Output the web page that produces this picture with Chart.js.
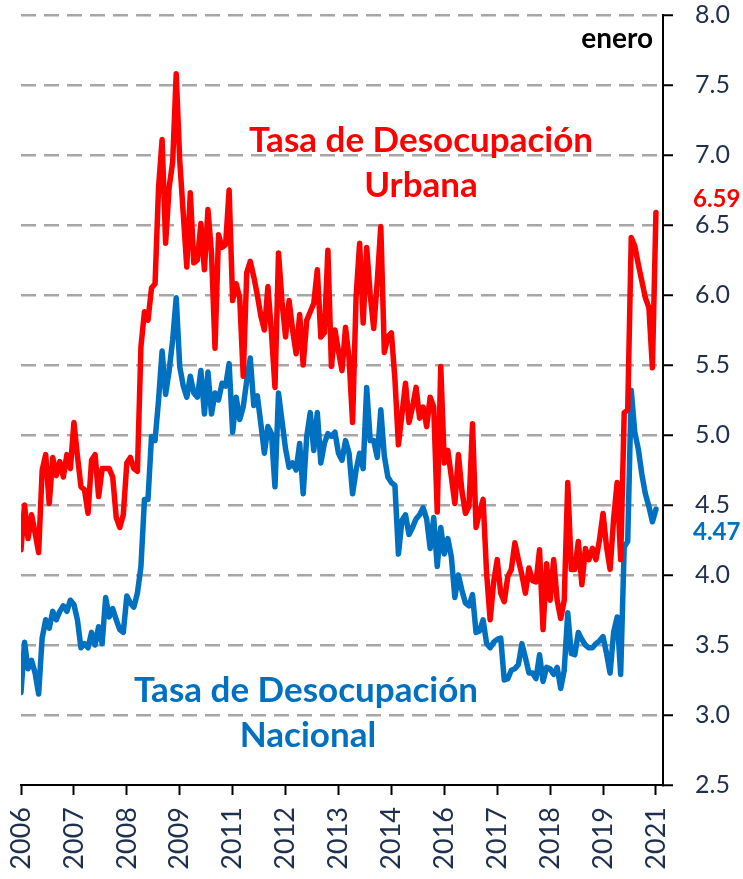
<!DOCTYPE html>
<html><head><meta charset="utf-8">
<script src="https://cdn.jsdelivr.net/npm/chart.js@4.4.1/dist/chart.umd.min.js"></script>
<style>html,body{margin:0;padding:0;background:#fff}#wrap{width:743px;height:879px;position:relative}</style>
</head><body><div id="wrap"><canvas id="c"></canvas></div>
<script>
// Monthly categories Jan 2006 .. Mar 2021 (axis runs a little past the last point)
const months = [];
for (let i = 0; i < 183; i++) {
  const y = 2006 + Math.floor(i / 12), m = (i % 12) + 1;
  months.push(y + '-' + String(m).padStart(2, '0'));
}
const tickMonths = ['2006-01','2007-04','2008-07','2009-10','2011-01','2012-04','2013-07','2014-10','2016-01','2017-04','2018-07','2019-10','2021-01'];
const tickLabels = ['2006','2007','2008','2009','2011','2012','2013','2014','2016','2017','2018','2019','2021'];

const urbana = [
  4.18,4.50,4.26,4.43,4.30,4.16,4.75,4.86,4.51,4.84,4.71,4.81,
  4.70,4.86,4.76,5.09,4.85,4.63,4.61,4.44,4.82,4.86,4.56,4.76,
  4.76,4.76,4.70,4.41,4.34,4.43,4.80,4.84,4.76,4.74,5.63,5.88,
  5.82,6.05,6.08,6.77,7.11,6.37,6.77,6.95,7.58,6.96,6.58,6.20,
  6.73,6.23,6.25,6.51,6.18,6.61,6.30,5.62,6.43,6.34,6.36,6.75,
  5.96,6.08,5.98,5.42,6.16,6.24,6.13,6.00,5.85,5.75,6.06,5.73,
  5.34,6.30,5.95,5.70,5.96,5.75,5.58,5.86,5.50,5.82,5.88,5.94,
  6.18,5.70,5.73,6.32,5.49,5.75,5.60,5.46,5.77,5.55,5.09,5.99,
  6.37,5.80,6.34,6.00,5.76,6.10,6.49,5.59,5.70,5.73,5.40,4.93,
  5.15,5.37,5.09,5.20,5.34,5.12,5.20,5.06,5.27,5.20,4.45,5.49,
  4.80,4.89,4.70,4.51,4.86,4.60,4.44,4.49,5.08,4.34,4.45,4.54,
  4.01,3.68,3.95,4.11,3.87,3.81,3.99,4.04,4.23,4.11,4.00,3.87,
  4.05,3.96,3.95,4.18,3.61,4.08,3.82,4.11,3.82,3.69,3.82,4.66,
  4.04,4.04,4.24,3.93,4.19,4.11,4.19,4.11,4.25,4.44,4.20,4.04,
  4.40,4.66,4.11,5.16,5.18,6.41,6.35,6.22,6.10,5.98,5.91,5.48,
  6.59
];
const nacional = [
  3.16,3.52,3.33,3.39,3.30,3.15,3.55,3.68,3.62,3.74,3.68,3.74,
  3.78,3.74,3.82,3.79,3.68,3.48,3.51,3.48,3.59,3.50,3.63,3.51,
  3.84,3.70,3.76,3.68,3.61,3.59,3.85,3.80,3.77,3.87,4.06,4.54,
  4.54,4.99,4.96,5.25,5.60,5.29,5.46,5.68,5.98,5.49,5.35,5.27,
  5.42,5.30,5.27,5.46,5.15,5.45,5.15,5.30,5.25,5.37,5.35,5.51,
  5.02,5.27,5.11,5.20,5.39,5.55,5.21,5.28,5.08,4.87,5.06,5.01,
  4.63,5.30,5.10,4.90,4.77,4.80,4.75,4.94,4.58,4.99,5.16,4.89,
  5.16,4.80,4.94,5.01,4.99,5.02,4.87,4.82,4.96,4.87,4.58,4.75,
  4.87,4.76,5.34,4.96,4.96,4.84,5.18,4.85,4.70,4.66,4.64,4.15,
  4.39,4.43,4.29,4.34,4.40,4.43,4.48,4.40,4.19,4.41,4.06,4.34,
  4.15,4.26,4.13,3.84,4.00,3.89,3.80,3.78,3.86,3.59,3.60,3.68,
  3.51,3.48,3.52,3.54,3.55,3.25,3.26,3.32,3.33,3.36,3.51,3.41,
  3.30,3.30,3.26,3.43,3.24,3.34,3.33,3.29,3.34,3.19,3.32,3.73,
  3.44,3.43,3.59,3.54,3.50,3.48,3.48,3.51,3.53,3.56,3.44,3.30,
  3.59,3.70,3.29,4.20,4.24,5.32,5.02,4.90,4.72,4.58,4.49,4.38,
  4.47
];
const urbanaLabel = ['Tasa de Desocupación', 'Urbana'];
const nacionalLabel = ['Tasa de Desocupación', 'Nacional'];
const noteText = 'enero';

const RED = '#ff0000', BLUE = '#0070c0', NAVY = '#1f2f4e';

const annot = {
  id: 'annot',
  afterDraw(chart) {
    const c = chart.ctx;
    c.save();
    c.textBaseline = 'alphabetic';
    c.font = 'bold 28px Lato';
    c.fillStyle = '#000';
    c.textAlign = 'right';
    c.fillText(noteText, 653, 48);
    c.font = 'bold 35px Lato';
    c.textAlign = 'center';
    c.fillStyle = RED;
    c.fillText(urbanaLabel[0], 421, 152);
    c.fillText(urbanaLabel[1], 421, 197);
    c.fillStyle = BLUE;
    c.fillText(nacionalLabel[0], 306, 702);
    c.fillText(nacionalLabel[1], 308, 747);
    c.font = 'bold 24px Lato';
    c.textAlign = 'left';
    c.fillStyle = RED;
    c.fillText(urbana[urbana.length - 1].toFixed(2), 693, 207);
    c.fillStyle = BLUE;
    c.fillText(nacional[nacional.length - 1].toFixed(2), 693, 540);
    c.restore();
  }
};

const lineStyle = {pointRadius: 0, tension: 0, borderWidth: 5.5, borderJoinStyle: 'round', borderCapStyle: 'round', fill: false, clip: 0};

new Chart(document.getElementById('c'), {
  type: 'line',
  data: {
    labels: months,
    datasets: [
      Object.assign({label: 'Urbana', data: urbana, borderColor: RED}, lineStyle),
      Object.assign({label: 'Nacional', data: nacional, borderColor: BLUE}, lineStyle)
    ]
  },
  options: {
    responsive: true, maintainAspectRatio: false, animation: false,
    layout: {padding: {left: 21, top: 15, right: 0, bottom: 0}},
    plugins: {legend: {display: false}, tooltip: {enabled: false}},
    scales: {
      x: {
        type: 'category', offset: false,
        afterBuildTicks: s => { s.ticks = s.ticks.filter(t => tickMonths.includes(months[t.value])); },
        afterFit: s => { s.height = 94; s.paddingLeft = 0; s.paddingRight = 0; },
        grid: {drawOnChartArea: false, drawTicks: true, tickLength: 10, tickColor: '#000', tickWidth: 2},
        border: {display: true, color: '#000', width: 2},
        ticks: {
          autoSkip: false, maxRotation: 90, minRotation: 90, padding: 12, color: NAVY,
          font: {family: 'Lato', size: 27},
          callback: v => tickLabels[tickMonths.indexOf(months[v])]
        }
      },
      y: {
        position: 'right', min: 2.5, max: 8.0,
        afterFit: s => { s.width = 80; s.paddingTop = 0; s.paddingBottom = 0; },
        ticks: {stepSize: 0.5, padding: 22, color: NAVY, font: {family: 'Lato', size: 25, lineHeight: 1},
          callback: v => Number(v).toFixed(1)},
        grid: {
          color: c => (c.tick && Math.abs(c.tick.value - 2.5) < 1e-6) ? 'rgba(0,0,0,0)' : '#a6a6a6',
          lineWidth: 2.5, tickLength: 10, tickColor: '#000', tickWidth: 2
        },
        border: {display: true, color: '#000', width: 2, dash: [15, 8]}
      }
    }
  },
  plugins: [annot]
});
</script></body></html>
